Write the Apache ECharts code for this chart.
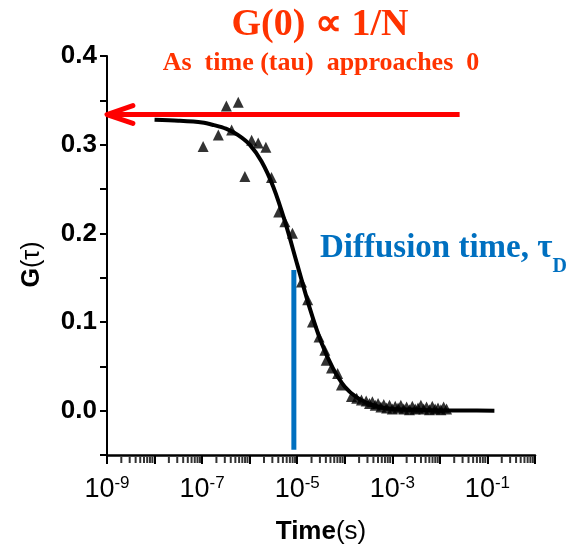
<!DOCTYPE html>
<html><head><meta charset="utf-8">
<script src="https://cdn.jsdelivr.net/npm/echarts@6/dist/echarts.min.js"></script>
<style>html,body{margin:0;padding:0;background:#fff}#c{width:571px;height:550px}</style>
</head><body><div id="c"></div>
<script>
// Fitted curve (time in s, G(tau))
const fitTime = [1e-8, 3.16e-8, 1e-7, 1.78e-7, 3.16e-7, 5.62e-7, 1e-6, 1.78e-6, 3.16e-6, 5.62e-6, 1e-5, 1.78e-5, 3.16e-5, 5.62e-5, 1e-4, 1.78e-4, 3.16e-4, 5.62e-4, 1e-3, 3.16e-3, 1e-2, 3.16e-2, 0.14];
const fitG    = [0.328, 0.327, 0.325, 0.322, 0.318, 0.311, 0.300, 0.281, 0.252, 0.212, 0.165, 0.118, 0.078, 0.048, 0.027, 0.015, 0.008, 0.004, 0.002, 0.001, 0.0003, 0.0001, 0.0];
// Measured points
const dataTime = [1.05e-7, 2.19e-7, 3.24e-7, 4.17e-7, 5.75e-7, 7.94e-7, 1.10e-6, 1.51e-6, 2.19e-6, 2.88e-6, 4.07e-6, 5.50e-6, 7.94e-6, 1.23e-5, 1.66e-5, 2.09e-5, 2.88e-5, 3.80e-5, 4.07e-5, 5.25e-5, 7.08e-5, 8.51e-5, 1.38e-4, 1.78e-4, 2.24e-4,
  2.82e-4, 3.31e-4, 3.80e-4, 4.37e-4, 5.01e-4, 5.75e-4, 6.61e-4, 7.59e-4, 8.71e-4, 1.0e-3, 1.15e-3, 1.32e-3, 1.51e-3, 1.74e-3, 2.0e-3, 2.29e-3, 2.63e-3, 3.02e-3, 3.47e-3, 3.98e-3, 4.57e-3, 5.25e-3, 6.03e-3, 6.92e-3, 7.94e-3, 9.12e-3, 1.05e-2, 1.20e-2, 1.38e-2];
const dataG = [0.298, 0.311, 0.3435, 0.3165, 0.3477, 0.264, 0.305, 0.302, 0.297, 0.263, 0.224, 0.213, 0.200, 0.145, 0.125, 0.100, 0.083, 0.068, 0.057, 0.048, 0.042, 0.029, 0.016, 0.014, 0.012,
  0.011, 0.008, 0.010, 0.006, 0.008, 0.004, 0.007, 0.003, 0.006, 0.002, 0.005, 0.003, 0.006, 0.002, 0.004, 0.001, 0.005, 0.002, 0.003, 0.006, 0.002, 0.004, 0.001, 0.005, 0.002, 0.003, 0.001, 0.004, 0.002];
// Annotations
const arrowTime = [2.6e-2, 1e-9];
const arrowG = [0.334, 0.334];
const headTime = [3.5e-9, 1e-9, 3.5e-9];
const headG = [0.344, 0.334, 0.324];
const tauDTime = [8.5e-6, 8.5e-6];
const tauDG = [0.1586, -0.044];
const minorMult = [2, 3, 4, 5, 6, 7, 8, 9];
const decades = [-9, -8, -7, -6, -5, -4, -3, -2, -1];

const zip = (a, b) => a.map((v, i) => [v, b[i]]);
const minorTicks = [];
decades.forEach(e => minorMult.forEach(k => minorTicks.push([k * Math.pow(10, e), -0.05])));

const chart = echarts.init(document.getElementById('c'), null, {renderer: 'canvas'});
const option = {
  animation: false,
  backgroundColor: '#fff',
  grid: {left: 107, right: 36, top: 56, bottom: 95, containLabel: false, outerBoundsMode: 'none'},
  xAxis: {
    type: 'log', logBase: 10, min: 1e-9, max: 1, interval: 1,
    name: '{a|Time}{b|(s)}', nameLocation: 'middle', nameGap: 64,
    nameTextStyle: {rich: {
      a: {fontFamily: 'Liberation Sans', fontWeight: 'bold', fontSize: 26, color: '#000'},
      b: {fontFamily: 'Liberation Sans', fontWeight: 'normal', fontSize: 26, color: '#000'}
    }},
    axisLine: {show: true, onZero: false, lineStyle: {color: '#000', width: 2.5}},
    axisTick: {show: true, inside: false, length: 9, lineStyle: {color: '#000', width: 2}},
    splitLine: {show: false},
    axisLabel: {
      margin: 20,
      formatter: function (v) {
        const e = Math.round(Math.log10(v));
        if (e % 2 === 0) return '';
        return '{m|10}{s|' + e + '}';
      },
      rich: {
        m: {fontFamily: 'Liberation Sans', fontSize: 27, color: '#000', lineHeight: 30},
        s: {fontFamily: 'Liberation Sans', fontSize: 17, color: '#000', lineHeight: 8, verticalAlign: 'top'}
      }
    }
  },
  yAxis: {
    type: 'value', min: -0.05, max: 0.4, interval: 0.05,
    name: '{a|G}{b|(τ)}', nameLocation: 'middle', nameGap: 62, nameRotate: 90,
    nameTextStyle: {padding: [0, 18, 0, 0], rich: {
      a: {fontFamily: 'Liberation Sans', fontWeight: 'bold', fontSize: 25, color: '#000'},
      b: {fontFamily: 'Liberation Sans', fontWeight: 'normal', fontSize: 25, color: '#000'}
    }},
    axisLine: {show: true, onZero: false, lineStyle: {color: '#000', width: 2}},
    axisTick: {show: true, inside: false, length: 7, lineStyle: {color: '#000', width: 2}},
    splitLine: {show: false},
    axisLabel: {
      margin: 10, fontFamily: 'Liberation Sans', fontWeight: 'bold', fontSize: 26, color: '#000',
      formatter: function (v) {
        const n = Math.round(v * 20);
        return (Math.abs(n) % 2 === 0) ? (n / 20).toFixed(1) : '';
      }
    }
  },
  series: [
    {
      type: 'line', data: zip(fitTime, fitG), smooth: 0.3, showSymbol: false, symbol: 'none',
      lineStyle: {color: '#000', width: 4}, z: 3
    },
    {
      type: 'scatter', data: zip(dataTime, dataG), symbol: 'triangle', symbolSize: 11,
      itemStyle: {color: '#000'}, z: 4
    },
    {
      type: 'line', data: zip(tauDTime, tauDG), symbol: 'none',
      lineStyle: {color: '#0070C0', width: 5, cap: 'butt'}, z: 2
    },
    {
      type: 'line', data: zip(arrowTime, arrowG), symbol: 'none', clip: false,
      lineStyle: {color: '#ff0000', width: 5, cap: 'butt'}, z: 5
    },
    {
      type: 'line', data: zip(headTime, headG), symbol: 'none', clip: false,
      lineStyle: {color: '#ff0000', width: 5, cap: 'round', join: 'round'}, z: 5
    },
    {
      type: 'scatter', data: minorTicks, clip: false,
      symbol: 'rect', symbolSize: [2, 6], symbolOffset: [0, 5],
      itemStyle: {color: '#000'}
    }
  ],
  graphic: [
    {type: 'text', x: 320, y: 25, style: {text: 'G(0) ∝ 1/N', fill: '#ff3300',
      font: 'bold 38px "Liberation Serif"', textAlign: 'center', textVerticalAlign: 'middle'}},
    {type: 'text', x: 321, y: 63, style: {text: 'As  time (tau)  approaches  0', fill: '#ff3300',
      font: 'bold 26px "Liberation Serif"', textAlign: 'center', textVerticalAlign: 'middle'}},
    {type: 'text', x: 320, y: 248, style: {
      text: '{t|Diffusion time, τ}{s|D}', textAlign: 'left', textVerticalAlign: 'middle',
      rich: {
        t: {fontFamily: 'Liberation Serif', fontWeight: 'bold', fontSize: 33, fill: '#0070C0', lineHeight: 57},
        s: {fontFamily: 'Liberation Serif', fontWeight: 'bold', fontSize: 20, fill: '#0070C0', lineHeight: 16, verticalAlign: 'bottom'}
      }}}
  ]
};
chart.setOption(option);
</script></body></html>
